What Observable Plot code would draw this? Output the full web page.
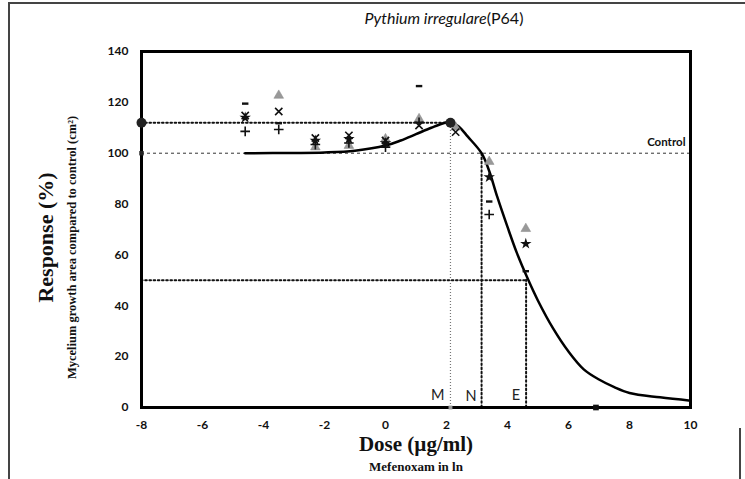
<!DOCTYPE html>
<html>
<head>
<meta charset="utf-8">
<script src="https://cdn.jsdelivr.net/npm/d3@7"></script>
<script src="https://cdn.jsdelivr.net/npm/@observablehq/plot@0.6"></script>
<style>
  html, body { margin: 0; padding: 0; background: #fff; }
  #wrap { position: relative; width: 745px; height: 479px; overflow: hidden; }
  .bl { position: absolute; background: #444; }
</style>
</head>
<body>
<div id="wrap">
  <div id="chart"></div>
  <div class="bl" style="left:8px;top:2px;width:737px;height:2px"></div>
  <div class="bl" style="left:8px;top:2px;width:2px;height:477px"></div>
  <div class="bl" style="left:739px;top:428px;width:2px;height:51px"></div>
</div>
<script>
// ---- data ----
const doses = [-4.6, -3.5, -2.3, -1.2, 0, 1.1, 2.3, 3.4, 4.6];
const repDash  = [119.5, 111.8, null, null, null, 126.4, null, 81.0, 53.6];
const repTimes = [114.8, 116.4, 106.0, 107.0, 105.0, 110.9, 108.3, null, null];
const repPlus  = [108.6, 109.3, 103.4, 104.0, 102.4, 112.2, null, 75.9, null];
const repTri   = [null, 122.7, 102.4, 103.0, 105.6, 113.5, 110.2, 96.7, 70.3];
const repStar  = [114.0, null, 105.0, 105.6, 104.0, null, null, 90.6, 64.4];

const curveX = [-4.6, -3, -2, -1, 0, 0.5, 1, 1.5, 1.9, 2.13, 2.4, 2.7, 3.15, 3.4, 3.66, 4.0, 4.3, 4.65, 5.0, 5.5, 6.0, 6.5, 7.0, 7.5, 8.0, 9.0, 10];
const curveY = [100, 100.1, 100.3, 101, 103, 105, 107.5, 110, 111.8, 112.3, 110.5, 106.5, 100, 93, 83, 71, 61, 51, 42, 31, 22, 15, 11, 8, 5.7, 4, 2.7];

const xTicks = [-8, -6, -4, -2, 0, 2, 4, 6, 8, 10];
const yTicks = [0, 20, 40, 60, 80, 100, 120, 140];

const controlValue = 100;
const maxValue = 112;      // peak response
const halfValue = 50;      // EC50 response
const doseM = 2.13, doseN = 3.15, doseE = 4.61;
const xMin = -8, xMax = 10;
const zeroPoints = [{x: 6.9, y: 0}];

// ---- build ----
const series = [
  {vals: repDash, sym: "dash"},
  {vals: repTimes, sym: "times"},
  {vals: repPlus, sym: "plus"},
  {vals: repTri, sym: "triangle"},
  {vals: repStar, sym: "star"}
];
const pts = [];
series.forEach(s => s.vals.forEach((v, i) => { if (v != null) pts.push({x: doses[i], y: v, sym: s.sym}); }));
const curve = curveX.map((x, i) => ({x, y: curveY[i]}));

const dashSymbol = { draw(ctx, size) { const w = Math.sqrt(size) * 0.7; ctx.moveTo(-w, 0); ctx.lineTo(w, 0); } };
const bySym = s => pts.filter(d => d.sym === s);

const sans = "Lato, 'Open Sans', sans-serif";
const serif = "'Liberation Serif', 'DejaVu Serif', serif";
const dotted = {stroke: "#111", strokeWidth: 2, strokeDasharray: "1.6,2.6", strokeLinecap: "round"};

const chart = Plot.plot({
  width: 745,
  height: 479,
  marginLeft: 141,
  marginRight: 55,
  marginTop: 51,
  marginBottom: 72,
  style: {fontFamily: sans, background: "transparent"},
  x: {domain: [xMin, xMax]},
  y: {domain: [0, 140]},
  marks: [
    Plot.axisX({ticks: xTicks, tickFormat: d => String(d), tickSize: 0, tickPadding: 13, fontSize: 12, fontWeight: "bold", label: null, fill: "#111"}),
    Plot.axisY({ticks: yTicks, tickFormat: d => String(d), tickSize: 0, tickPadding: 13, fontSize: 12, fontWeight: "bold", label: null, fill: "#111"}),
    // reference lines
    Plot.ruleY([controlValue], {x1: xMin, x2: xMax, stroke: "#333", strokeWidth: 1, strokeDasharray: "3,3"}),
    Plot.ruleY([maxValue], {x1: xMin, x2: doseM, ...dotted}),
    Plot.ruleY([halfValue], {x1: xMin, x2: doseE, ...dotted}),
    Plot.ruleX([doseM], {y1: 0, y2: maxValue, stroke: "#777", strokeWidth: 1.2, strokeDasharray: "1,2"}),
    Plot.ruleX([doseN], {y1: 0, y2: controlValue, ...dotted}),
    Plot.ruleX([doseE], {y1: 0, y2: halfValue, ...dotted}),
    Plot.frame({stroke: "#000", strokeWidth: 3}),
    // fitted curve
    Plot.line(curve, {x: "x", y: "y", curve: "catmull-rom", stroke: "#000", strokeWidth: 2.5}),
    // replicate points
    Plot.dot(bySym("triangle"), {x: "x", y: "y", symbol: "triangle", r: 3.6, fill: "#999", stroke: "#888", strokeWidth: 0.5}),
    Plot.dot(bySym("times"), {x: "x", y: "y", symbol: "times", r: 3.4, stroke: "#111", strokeWidth: 1.6}),
    Plot.dot(bySym("plus"), {x: "x", y: "y", symbol: "plus", r: 3.2, stroke: "#111", strokeWidth: 1.6}),
    Plot.dot(bySym("star"), {x: "x", y: "y", symbol: "star", r: 3.6, fill: "#111"}),
    Plot.dot(bySym("dash"), {x: "x", y: "y", symbol: dashSymbol, r: 2.6, stroke: "#111", strokeWidth: 2.4}),
    // key points
    Plot.dot([{x: xMin, y: maxValue}, {x: doseM, y: maxValue}], {x: "x", y: "y", r: 5, fill: "#222"}),
    Plot.dot([{x: xMin, y: controlValue}], {x: "x", y: "y", symbol: "square", r: 2.5, fill: "#222"}),
    Plot.dot(zeroPoints, {x: "x", y: "y", symbol: "square", r: 3.2, fill: "#111"}),
    Plot.dot([{x: doseM, y: 0}], {x: "x", y: "y", symbol: "square", r: 2.2, fill: "#999"}),
    // M N E labels
    Plot.text(["M"], {x: () => doseM, y: () => 0, text: d => d, textAnchor: "end", dx: -6, dy: -12, fontSize: 14.5, fill: "#222"}),
    Plot.text(["N"], {x: () => doseN, y: () => 0, text: d => d, textAnchor: "end", dx: -5, dy: -11, fontSize: 14.5, fill: "#222"}),
    Plot.text(["E"], {x: () => doseE, y: () => 0, text: d => d, textAnchor: "end", dx: -6, dy: -12, fontSize: 14.5, fill: "#222"}),
    Plot.text(["Control"], {x: () => xMax, y: () => controlValue, text: d => d, textAnchor: "end", dx: -5, dy: -11, fontSize: 11.5, fontWeight: "bold", fill: "#111"}),
    // titles
    Plot.text(["Dose (µg/ml)"], {frameAnchor: "bottom", dy: 43, text: d => d, fontFamily: serif, fontWeight: "bold", fontSize: 21, fill: "#111"}),
    Plot.text(["Mefenoxam in ln"], {frameAnchor: "bottom", dy: 63, text: d => d, fontFamily: serif, fontWeight: "bold", fontSize: 13, fill: "#111"}),
    Plot.text(["Response (%)"], {frameAnchor: "left", textAnchor: "middle", dx: -96, dy: 8, rotate: -90, text: d => d, fontFamily: serif, fontWeight: "bold", fontSize: 22, fill: "#111"}),
    Plot.text(["Mycelium growth area compared to control (cm²)"], {frameAnchor: "left", textAnchor: "middle", dx: -70, dy: 18, rotate: -90, text: d => d, fontFamily: serif, fontWeight: "bold", fontSize: 12.5, fill: "#111"})
  ]
});
document.getElementById("chart").appendChild(chart);

// Title with mixed italic
const title = d3.select(chart).append("text")
  .attr("x", 444).attr("y", 24).attr("text-anchor", "middle")
  .attr("font-family", sans).attr("font-size", 16).attr("fill", "#111");
title.append("tspan").attr("font-style", "italic").text("Pythium irregulare");
title.append("tspan").text("(P64)");
</script>
</body>
</html>
